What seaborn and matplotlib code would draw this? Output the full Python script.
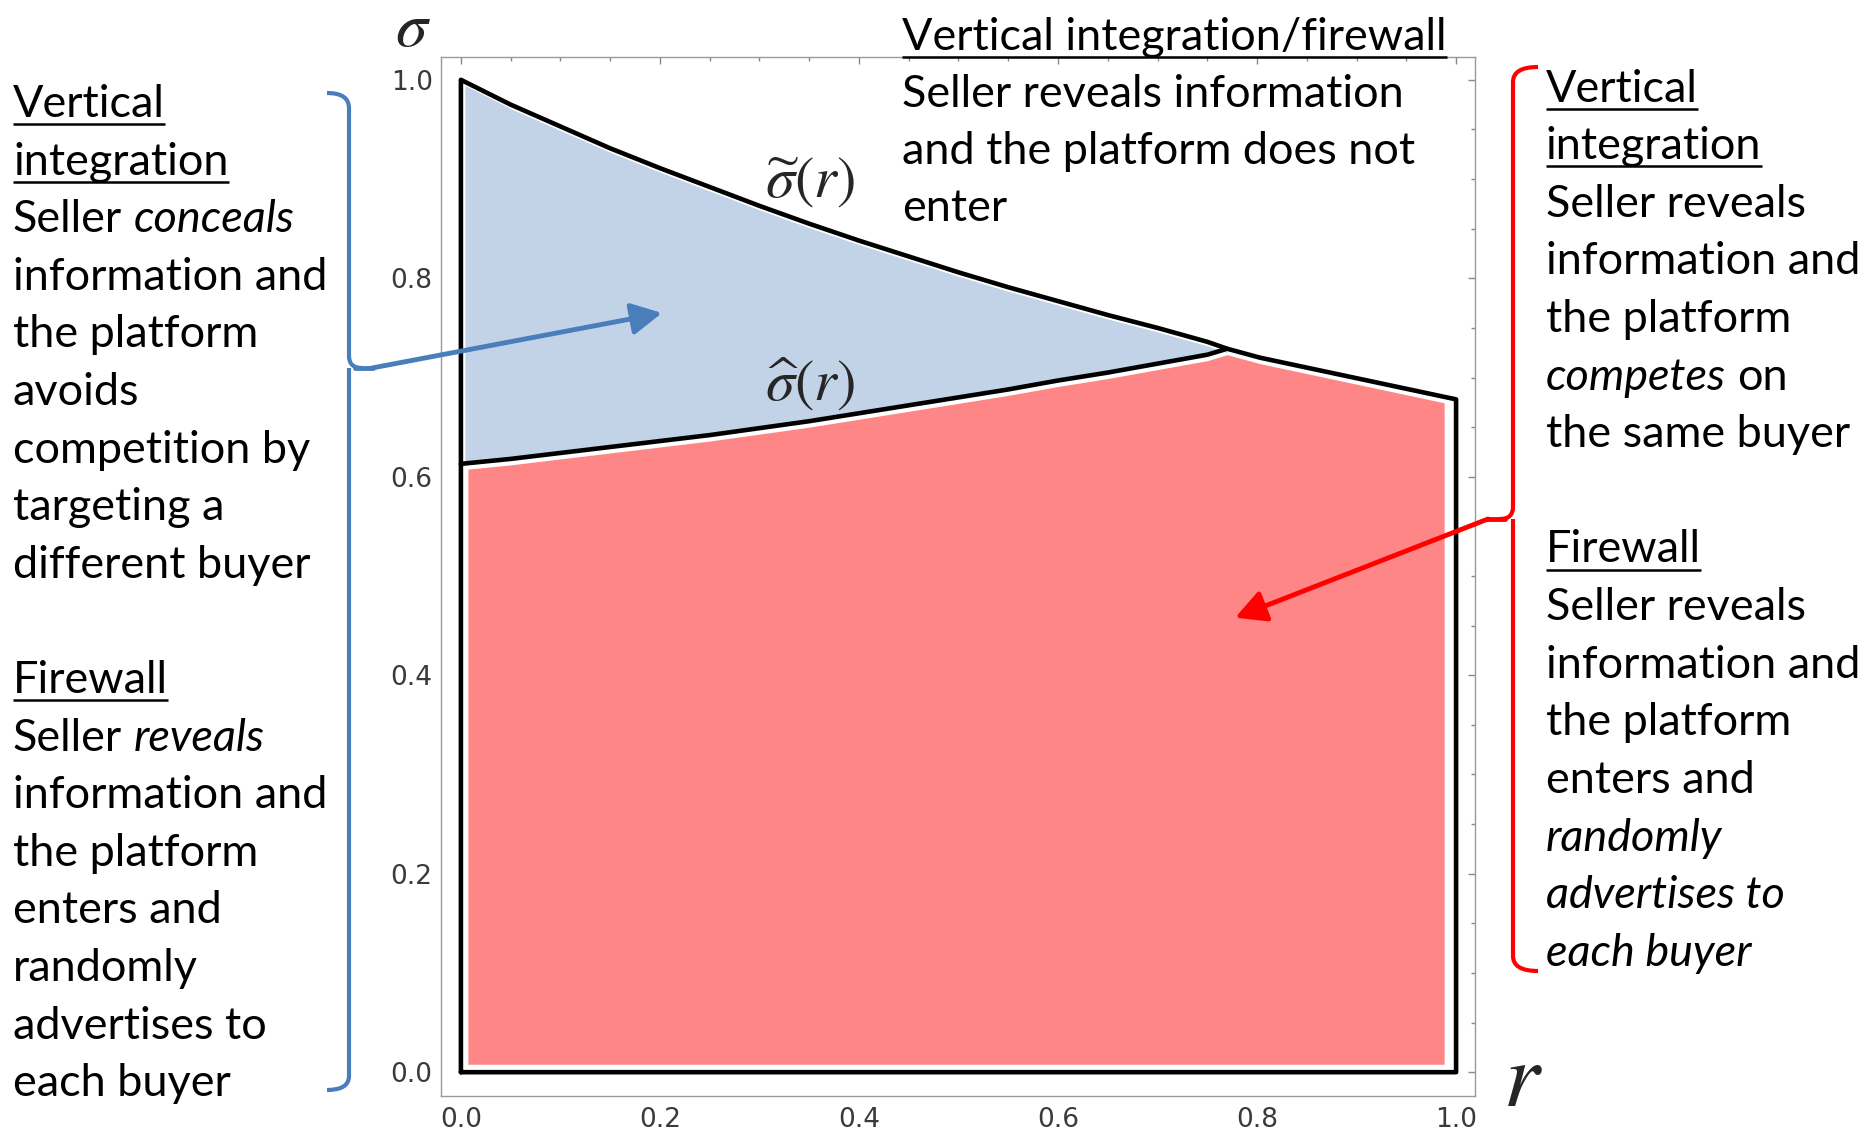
import numpy as np
import matplotlib
matplotlib.use("Agg")
import matplotlib.pyplot as plt
import matplotlib.patheffects as pe
import seaborn as sns
from matplotlib.path import Path
from matplotlib.patches import PathPatch
from matplotlib.ticker import MultipleLocator

# -----------------------------
# Data
# -----------------------------
r_curve = [0.0, 0.05, 0.1, 0.15, 0.2, 0.25, 0.3, 0.35, 0.4, 0.45,
           0.5, 0.55, 0.6, 0.65, 0.7, 0.75, 0.77]
sigma_tilde = [1.0, 0.975, 0.953, 0.931, 0.911, 0.892, 0.873, 0.855, 0.838, 0.822,
               0.806, 0.791, 0.777, 0.763, 0.750, 0.736, 0.729]
sigma_hat = [0.613, 0.618, 0.624, 0.630, 0.636, 0.642, 0.649, 0.656, 0.664, 0.672,
             0.680, 0.688, 0.697, 0.705, 0.714, 0.723, 0.729]

# outer boundary after the two curves meet
r_tail = [0.803, 1.0]
sigma_tail = [0.720, 0.678]

x_ticks = [0.0, 0.2, 0.4, 0.6, 0.8, 1.0]
x_tick_labels = ["0.0", "0.2", "0.4", "0.6", "0.8", "1.0"]
y_ticks = [0.0, 0.2, 0.4, 0.6, 0.8, 1.0]
y_tick_labels = ["0.0", "0.2", "0.4", "0.6", "0.8", "1.0"]

# annotation texts (_x_ = underlined line, *x* = italic part)
left_lines = [
    "_Vertical_", "_integration_", "Seller *conceals*", "information and",
    "the platform", "avoids", "competition by", "targeting a",
    "different buyer", "",
    "_Firewall_", "Seller *reveals*", "information and", "the platform",
    "enters and", "randomly", "advertises to", "each buyer",
]
right_lines = [
    "_Vertical_", "_integration_", "Seller reveals", "information and",
    "the platform", "*competes* on", "the same buyer", "",
    "_Firewall_", "Seller reveals", "information and", "the platform",
    "enters and", "*randomly*", "*advertises to*", "*each buyer*",
]
top_lines = [
    "_Vertical integration/firewall_", "Seller reveals information",
    "and the platform does not", "enter",
]

# -----------------------------
# Style
# -----------------------------
sns.set_style("white")
plt.rcParams["font.family"] = ["Lato", "DejaVu Sans"]
plt.rcParams["mathtext.fontset"] = "stix"

BLUE_FILL = "#c2d3e7"
RED_FILL = "#ff8686"
BLUE = "#4a7ebb"
RED = "#ff0000"
TEXT_SIZE = 32.4

W, H = 1868, 1133
fig = plt.figure(figsize=(W / 100, H / 100), dpi=100)
fig.patch.set_facecolor("white")

ax = fig.add_axes([441 / W, 1 - 1096 / H, (1475 - 441) / W, (1096 - 57) / H])
ax.set_xlim(-0.02, 1.019)
ax.set_ylim(-0.024, 1.023)

# -----------------------------
# Regions
# -----------------------------
r_arr = np.array(r_curve)
st = np.array(sigma_tilde)
sh = np.array(sigma_hat)

# blue region between the two curves
r_blue = r_arr.copy()
r_blue[0] = 0.004
ax.fill_between(r_blue, sh, st - 0.004, color=BLUE_FILL, lw=0, zorder=1)

# red region below, slightly inset from the black frame
r_top = np.concatenate([r_arr, r_tail])
s_top = np.concatenate([sh, sigma_tail])
r_red = np.concatenate([[0.007], r_arr[1:], [r_tail[0], 0.988]])
s_red = np.interp(r_red, r_top, s_top) - 0.006
ax.fill_between(r_red, 0.008, s_red, color=RED_FILL, lw=0, zorder=1)

# black outlines
outer_r = [0.0] + r_curve + r_tail + [1.0, 0.0]
outer_s = [0.0] + sigma_tilde + sigma_tail + [0.0, 0.0]
halo = [pe.Stroke(linewidth=5.0, foreground="white"), pe.Normal()]
sns.lineplot(x=outer_r, y=outer_s, sort=False, estimator=None, color="black",
             lw=3.3, ax=ax, zorder=3, path_effects=halo)
sns.lineplot(x=r_curve, y=sigma_hat, sort=False, estimator=None, color="black",
             lw=3.3, ax=ax, zorder=3)

ax.text(0.351, 0.896, r"$\widetilde{\sigma}(r)$", fontsize=42,
        ha="center", va="center", zorder=4)
ax.text(0.351, 0.693, r"$\widehat{\sigma}(r)$", fontsize=42,
        ha="center", va="center", zorder=4)

# -----------------------------
# Frame and ticks
# -----------------------------
ax.set_xticks(x_ticks)
ax.set_xticklabels(x_tick_labels, fontfamily="DejaVu Sans")
ax.set_yticks(y_ticks)
ax.set_yticklabels(y_tick_labels, fontfamily="DejaVu Sans")
ax.xaxis.set_minor_locator(MultipleLocator(0.05))
ax.yaxis.set_minor_locator(MultipleLocator(0.05))
ax.tick_params(which="both", direction="in", top=True, right=True,
               color="#888888", labelcolor="#3a3a3a", labelsize=19, width=1)
ax.tick_params(which="major", length=5)
ax.tick_params(which="minor", length=3)
ax.tick_params(axis="x", pad=8)
ax.tick_params(axis="y", pad=6)
for spine in ax.spines.values():
    spine.set_color("#999999")
    spine.set_linewidth(1.0)
ax.set_xlabel("")
ax.set_ylabel("")

# -----------------------------
# Overlay in pixel coordinates for notes
# -----------------------------
ov = fig.add_axes([0, 0, 1, 1], zorder=5)
ov.set_xlim(0, W)
ov.set_ylim(H, 0)
ov.axis("off")
ov.patch.set_alpha(0)

renderer = fig.canvas.get_renderer()


def width_of(t):
    return t.get_window_extent(renderer).width


tmp1 = ov.text(0, 0, "a a", fontsize=TEXT_SIZE)
tmp2 = ov.text(0, 0, "aa", fontsize=TEXT_SIZE)
space_w = width_of(tmp1) - width_of(tmp2)
tmp1.remove()
tmp2.remove()


def draw_block(lines, x0, y0, step):
    for i, line in enumerate(lines):
        if not line:
            continue
        y = y0 + step * i
        underline = line.startswith("_")
        parts = line.strip("_").split("*")
        x = x0
        for k, part in enumerate(parts):
            if not part:
                continue
            lead = len(part) - len(part.lstrip(" "))
            trail = len(part) - len(part.rstrip(" "))
            x += lead * space_w
            t = ov.text(x, y, part.strip(" "), fontsize=TEXT_SIZE,
                        style="italic" if k % 2 else "normal",
                        ha="left", va="baseline", color="black")
            x += width_of(t) + trail * space_w
        if underline:
            ov.plot([x0, x], [y + 7, y + 7], color="black", lw=1.8,
                    solid_capstyle="butt")


draw_block(left_lines, 13, 117, 57.6)
draw_block(right_lines, 1546, 101.7, 57.6)
draw_block(top_lines, 902, 50, 57)

# axis symbols
ov.text(413, 46, r"$\sigma$", fontsize=46, ha="center", va="baseline")
ov.text(1523, 1106, r"$r$", fontsize=66, ha="center", va="baseline")

# braces
left_brace = Path(
    [(327, 93), (349, 93), (349, 108), (349, 356), (349, 368), (362, 368),
     (349, 368), (349, 380), (349, 1076), (349, 1090), (327, 1090)],
    [Path.MOVETO, Path.CURVE3, Path.CURVE3, Path.LINETO, Path.CURVE3, Path.CURVE3,
     Path.MOVETO, Path.CURVE3, Path.LINETO, Path.CURVE3, Path.CURVE3])
ov.add_patch(PathPatch(left_brace, fill=False, edgecolor=BLUE, lw=3.0,
                       capstyle="butt"))
ov.plot([355, 373], [368, 368], color=BLUE, lw=3.5)

right_brace = Path(
    [(1538, 67), (1513, 67), (1513, 82), (1513, 507), (1513, 519), (1500, 519),
     (1513, 519), (1513, 531), (1513, 956), (1513, 971), (1538, 971)],
    [Path.MOVETO, Path.CURVE3, Path.CURVE3, Path.LINETO, Path.CURVE3, Path.CURVE3,
     Path.MOVETO, Path.CURVE3, Path.LINETO, Path.CURVE3, Path.CURVE3])
ov.add_patch(PathPatch(right_brace, fill=False, edgecolor=RED, lw=3.0,
                       capstyle="butt"))
ov.plot([1487, 1505], [519, 519], color=RED, lw=3.5)

# arrows into the regions
ov.annotate("", xy=(0.202, 0.765), xycoords=ax.transData,
            xytext=(372, 368), textcoords="data",
            arrowprops=dict(arrowstyle="-|>,head_length=0.8,head_width=0.42",
                            color=BLUE, lw=3.5, mutation_scale=23,
                            shrinkA=0, shrinkB=0))
ov.annotate("", xy=(0.778, 0.458), xycoords=ax.transData,
            xytext=(1488, 519), textcoords="data",
            arrowprops=dict(arrowstyle="-|>,head_length=0.8,head_width=0.42",
                            color=RED, lw=3.5, mutation_scale=23,
                            shrinkA=0, shrinkB=0))

fig.savefig("out.png", dpi=100, facecolor="white")
